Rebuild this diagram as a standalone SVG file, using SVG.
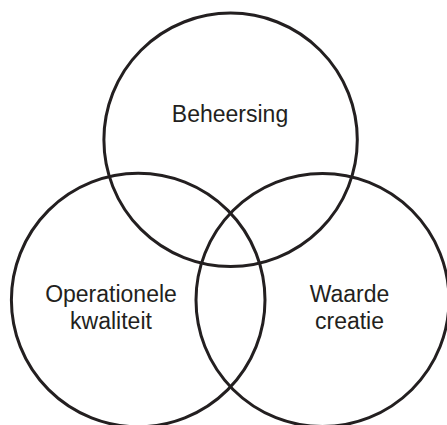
<svg xmlns="http://www.w3.org/2000/svg" width="447" height="425" viewBox="0 0 447 425">
<style>
.c{fill:none;stroke:#231f20;stroke-width:3}
.t{font-family:"Liberation Sans",Arial,sans-serif;font-size:23px;fill:#231f20;text-anchor:middle}
</style>
<rect width="447" height="425" fill="#fff"/>
<g id="beheersing"><circle class="c" cx="230.6" cy="139.8" r="126.7"/><text class="t" x="230" y="122">Beheersing</text></g>
<g id="operationele"><circle class="c" cx="138.2" cy="300" r="126.8"/><text class="t" x="111" y="302">Operationele</text><text class="t" x="111" y="328.5">kwaliteit</text></g>
<g id="waarde"><circle class="c" cx="322.5" cy="300" r="126.5"/><text class="t" x="349.5" y="302">Waarde</text><text class="t" x="349.5" y="328.5">creatie</text></g>
</svg>
